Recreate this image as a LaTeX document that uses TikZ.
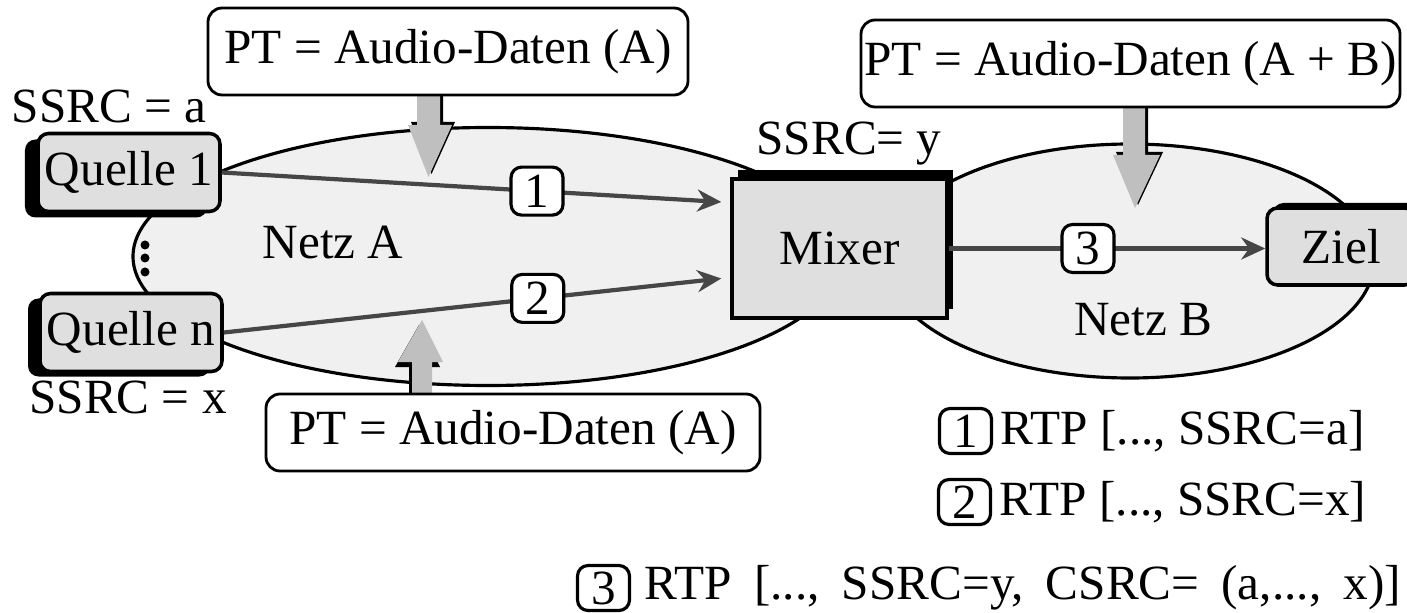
\documentclass[tikz,border=0pt]{standalone}
\usepackage{fontspec}
\setmainfont{Liberation Serif}
\usetikzlibrary{arrows.meta,shadows,positioning}

\begin{document}
\begin{tikzpicture}[every node/.style={font=\fontsize{14}{16}\selectfont},
        netz/.style={draw=black, line width=0.9pt, fill=gray!12},
        station/.style={draw=black, line width=1pt, fill=gray!25, rounded corners=3pt,
        minimum width=1.82cm, minimum height=0.78cm, inner sep=0pt},
        ptbox/.style={draw=black, line width=0.8pt, fill=white, rounded corners=4pt,
        minimum height=0.87cm, inner sep=0pt},
        numbox/.style={draw=black, line width=0.9pt, fill=white, rounded corners=3pt,
        minimum width=0.52cm, minimum height=0.48cm, inner sep=0pt},
        flow/.style={draw=gray!55!black, line width=1.2pt, -{Stealth[length=2.4mm, width=2.2mm]}},
        bigarrow/.style={fill=gray!50},
        arrowshadow/.style={fill=black}]
        \useasboundingbox (0,0) rectangle (14.07,6.12);
        \clip (0,0) rectangle (14.07,6.12);
        \filldraw[netz] (4.88,3.555) ellipse (3.55cm and 1.29cm);
        \filldraw[netz] (11.30,3.51) ellipse (2.44cm and 1.17cm);
        \fill[arrowshadow, xshift=0.3mm, yshift=0.3mm] (4.17,5.20) -- (4.17,4.87) -- (4.08,4.87)
        -- (4.285,4.35) -- (4.52,4.87) -- (4.40,4.87) -- (4.40,5.20) -- cycle;
        \fill[bigarrow] (4.17,5.20) -- (4.17,4.87) -- (4.08,4.87)
        -- (4.285,4.35) -- (4.52,4.87) -- (4.40,4.87) -- (4.40,5.20) -- cycle;
        \fill[arrowshadow, xshift=0.3mm, yshift=0.3mm] (11.23,5.08) -- (11.23,4.57) -- (11.13,4.57)
        -- (11.35,4.04) -- (11.60,4.57) -- (11.45,4.57) -- (11.45,5.08) -- cycle;
        \fill[bigarrow] (11.23,5.08) -- (11.23,4.57) -- (11.13,4.57)
        -- (11.35,4.04) -- (11.60,4.57) -- (11.45,4.57) -- (11.45,5.08) -- cycle;
        \fill[arrowshadow, xshift=-0.3mm, yshift=-0.5mm] (4.12,2.16) -- (4.12,2.50) -- (3.98,2.50)
        -- (4.22,2.92) -- (4.43,2.50) -- (4.32,2.50) -- (4.32,2.16) -- cycle;
        \fill[bigarrow] (4.12,2.16) -- (4.12,2.50) -- (3.98,2.50)
        -- (4.22,2.92) -- (4.43,2.50) -- (4.32,2.50) -- (4.32,2.16) -- cycle;
        \node[ptbox, minimum width=4.80cm] (ptA) at (4.48,5.605) {PT = Audio-Daten (A)};
        \node[ptbox, minimum width=5.39cm] (ptAB) at (11.305,5.485) {PT = Audio-Daten (A + B)};
        \node[ptbox, minimum width=4.94cm, minimum height=0.77cm] (ptAbottom) at (5.13,1.795)
        {PT = Audio-Daten (A)};
        \node[station, drop shadow={shadow xshift=-1.3mm, shadow yshift=-0.6mm, fill=black, opacity=1}]
        (q1) at (1.29,4.395) {Quelle 1};
        \node[station, drop shadow={shadow xshift=-1.2mm, shadow yshift=-0.5mm, fill=black, opacity=1}]
        (qn) at (1.31,2.795) {Quelle n};
        \node[station, rounded corners=0pt, minimum width=2.15cm, minimum height=1.39cm,
        drop shadow={shadow xshift=0.6mm, shadow yshift=0.9mm, fill=black, opacity=1}]
        (mixer) at (8.395,3.635) {Mixer};
        \node[station, minimum width=1.48cm, minimum height=0.77cm,
        drop shadow={shadow xshift=0.6mm, shadow yshift=0.5mm, fill=black, opacity=1}]
        (ziel) at (13.41,3.655) {Ziel};
        \node[anchor=base] (ssrcA) at (1.09,4.89) {SSRC = a};
        \node[anchor=base] (ssrcX) at (1.28,1.99) {SSRC = x};
        \node[anchor=base] (ssrcY) at (8.49,4.57) {SSRC= y};
        \foreach \y in {3.67,3.54,3.40}
        \fill (1.45,\y) circle (0.045);
        \coordinate (m1) at ([yshift=4.6mm]mixer.west);
        \coordinate (m2) at ([yshift=-2.9mm]mixer.west);
        \draw[flow, shorten >=0.9mm] (q1.east) -- node[numbox, pos=0.62] (n1) {1} (m1);
        \draw[flow, shorten >=0.9mm] (qn.east) -- node[numbox, pos=0.62] (n2) {2} (m2);
        \draw[flow] (mixer.east) -- node[numbox, pos=0.44] (n3) {3} (mixer.east -| ziel.west);
        \node (netzA) at (3.33,3.69) {Netz A};
        \node (netzB) at (11.43,2.92) {Netz B};
        \node[numbox, minimum height=0.45cm] (k1) at (9.655,1.81) {1};
        \node[right=0.07cm of k1, inner sep=0pt] (t1) {RTP [..., SSRC=a]};
        \node[numbox, minimum height=0.45cm] (k2) at (9.645,1.10) {2};
        \node[right=0.07cm of k2, inner sep=0pt] (t2) {RTP [..., SSRC=x]};
        \node[numbox, minimum height=0.45cm] (k3) at (6.035,0.24) {3};
        \node[right=0.13cm of k3, inner sep=0pt] (t3)
        {\spaceskip=0.45em RTP [..., SSRC=y, CSRC= (a,..., x)]};
    \end{tikzpicture}
\end{document}
